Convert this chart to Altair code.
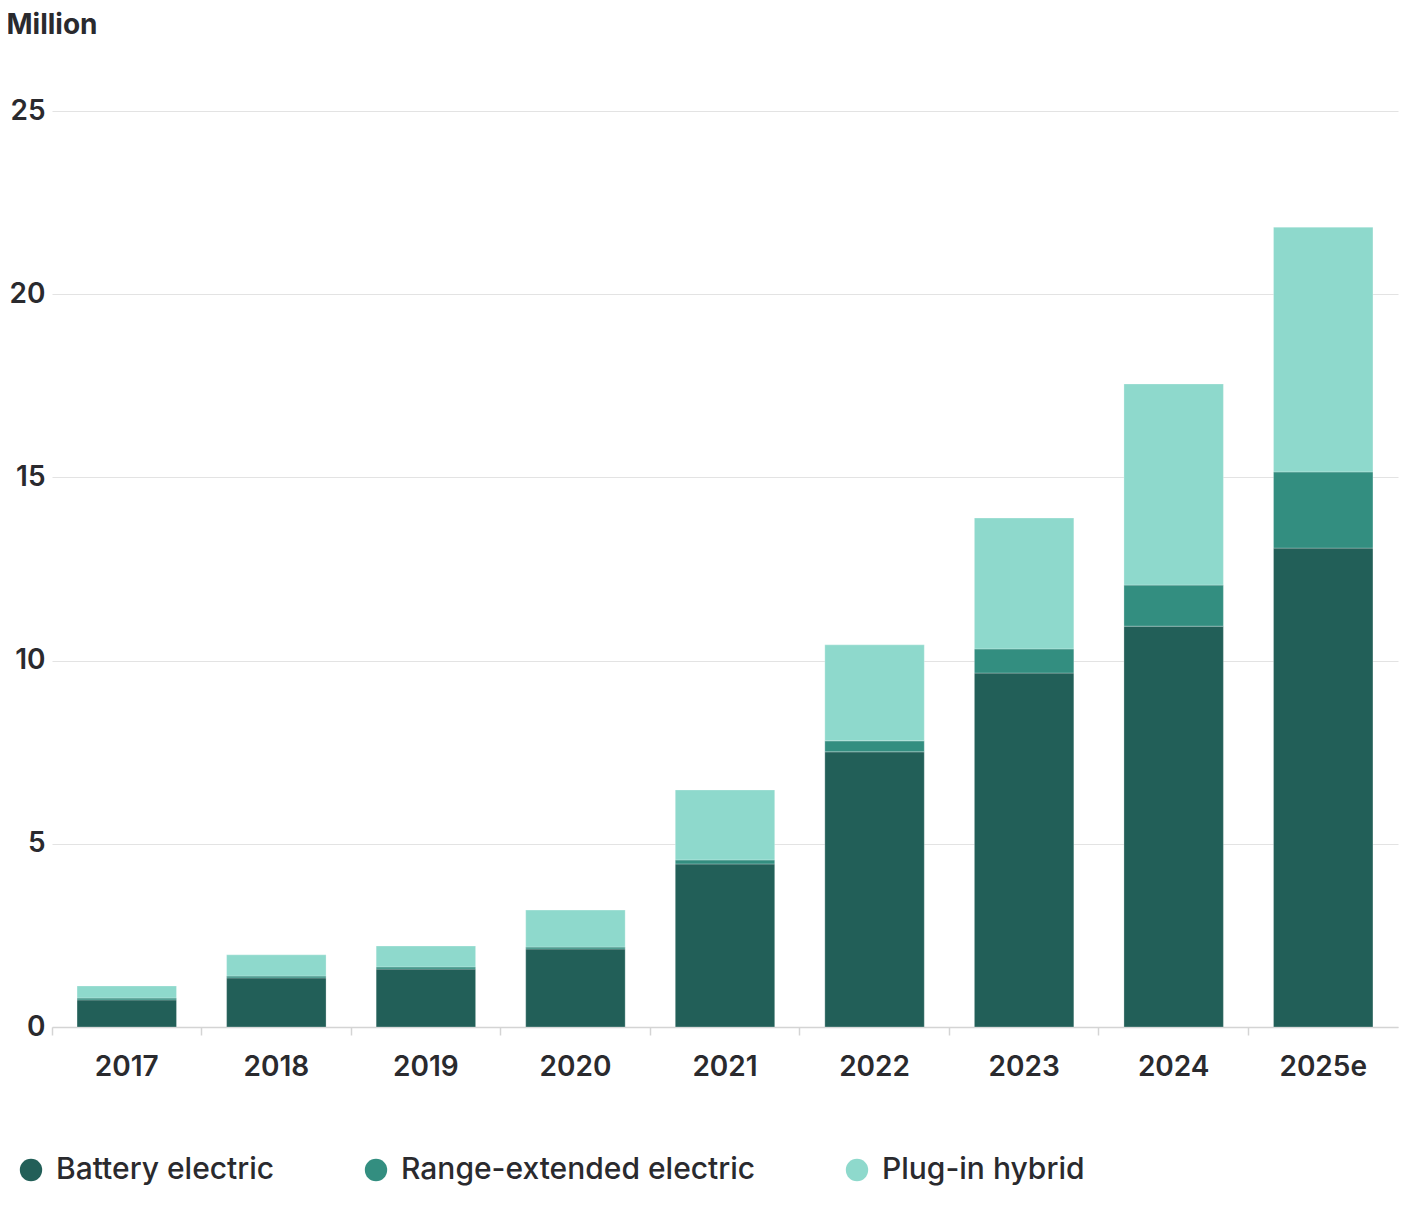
import altair as alt
import pandas as pd

years = ["2017", "2018", "2019", "2020", "2021", "2022", "2023", "2024", "2025e"]
battery = [0.74, 1.34, 1.58, 2.13, 4.45, 7.51, 9.66, 10.94, 13.07]
range_ext = [0.05, 0.05, 0.06, 0.05, 0.11, 0.30, 0.66, 1.12, 2.08]
plugin = [0.33, 0.58, 0.57, 1.01, 1.91, 2.62, 3.57, 5.49, 6.68]

series = ["Battery electric", "Range-extended electric", "Plug-in hybrid"]
colors = ["#225f58", "#338e80", "#8ed9cc"]

rows = []
for i, y in enumerate(years):
    for k, (name, vals) in enumerate(zip(series, [battery, range_ext, plugin])):
        rows.append({"year": y, "type": name, "value": vals[i], "order": k})
df = pd.DataFrame(rows)

FONT = "Inter"
TXT = "#2a2a2e"

chart = alt.Chart(df).mark_bar(
    width=alt.RelativeBandSize(0.665), stroke="white", strokeWidth=0.6, strokeOpacity=0.45
).encode(
    x=alt.X("year:N", sort=years, title=None,
            scale=alt.Scale(paddingInner=0, paddingOuter=0),
            axis=alt.Axis(labelAngle=0, bandPosition=0, ticks=True, tickSize=8,
                          tickColor="#d4d4d4", domainColor="#d4d4d4", domainWidth=1.5,
                          tickWidth=1.5,
                          labelFont=FONT, labelFontSize=28, labelFontWeight=600,
                          labelColor=TXT, labelPadding=18, grid=False)),
    y=alt.Y("value:Q", stack="zero", title="Million",
            scale=alt.Scale(domain=[0, 25]),
            axis=alt.Axis(values=[0, 5, 10, 15, 20, 25], domain=False, ticks=False,
                          gridColor="#e3e3e3", gridWidth=1.2,
                          labelFont=FONT, labelFontSize=28, labelFontWeight=600,
                          labelColor=TXT, labelPadding=7,
                          titleAngle=0, titleAlign="left", titleBaseline="alphabetic",
                          titleX=-46, titleY=-78, titleFont=FONT, titleFontSize=28,
                          titleFontWeight=700, titleColor=TXT)),
    color=alt.Color("type:N", sort=series,
                    scale=alt.Scale(domain=series, range=colors),
                    legend=alt.Legend(title=None, orient="none", direction="horizontal",
                                      legendX=-36, legendY=1044,
                                      symbolType="circle", symbolSize=500,
                                      symbolStrokeWidth=0, columnPadding=86,
                                      labelFont=FONT, labelFontSize=30, labelLimit=0,
                                      labelFontWeight=500, labelColor=TXT,
                                      labelOffset=10)),
    order=alt.Order("order:Q", sort="ascending"),
).properties(
    width=1346, height=916,
    autosize=alt.AutoSizeParams(type="none"),
    padding={"left": 44, "top": 103, "right": 2, "bottom": 170},
).configure_view(stroke=None)

chart.save("out.html", embed_options={"renderer": "svg", "actions": False})
